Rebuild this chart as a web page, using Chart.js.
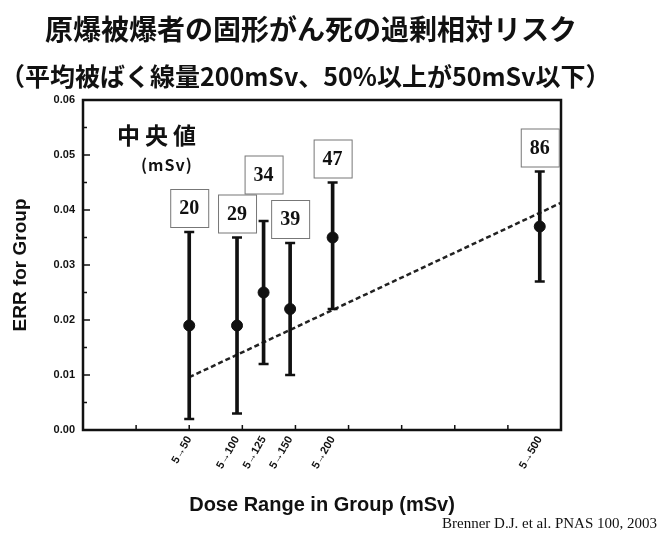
<!DOCTYPE html>
<html>
<head>
<meta charset="utf-8">
<script src="https://cdn.jsdelivr.net/npm/chart.js@4.4.1/dist/chart.umd.min.js"></script>
<style>
html, body { margin: 0; padding: 0; background: #fff; }
#wrap { width: 671px; height: 536px; }
</style>
</head>
<body>
<div id="wrap"><canvas id="chart"></canvas></div>
<script>
// median dose of each group (mSv) and its dose range label
const medians = [20, 29, 34, 39, 47, 86];
const rangeLabels = ["5→50", "5→100", "5→125", "5→150", "5→200", "5→500"];
// excess relative risk per group with error bar ends
const errValues = [0.019, 0.019, 0.025, 0.022, 0.035, 0.037];
const errLow = [0.002, 0.003, 0.012, 0.010, 0.022, 0.027];
const errHigh = [0.036, 0.035, 0.038, 0.034, 0.045, 0.047];
// linear fit (dashed)
const fitX = [20, 90];
const fitY = [0.0096, 0.0413];

const titleText = "原爆被爆者の固形がん死の過剰相対リスク";
const subtitleText = "（平均被ばく線量200mSv、50%以上が50mSv以下）";
const noteText = "中央値";
const noteUnit = "(mSv)";
const citeText = "Brenner D.J. et al. PNAS 100, 2003";

const INK = "#111";
const sans = '"Liberation Sans", Arial, sans-serif';
const cjk = '"Noto Sans CJK JP", sans-serif';

const decor = {
    id: "decor",
    afterDraw(chart) {
        const ctx = chart.ctx;
        const area = chart.chartArea;
        const x = chart.scales.x, y = chart.scales.y;
        ctx.save();
        ctx.strokeStyle = INK;
        ctx.fillStyle = INK;

        // frame
        ctx.lineWidth = 2.5;
        ctx.strokeRect(area.left, area.top, area.right - area.left, area.bottom - area.top);

        // inward ticks
        ctx.lineWidth = 1.5;
        ctx.beginPath();
        for (let v = 0; v <= 0.06 + 1e-9; v += 0.005) {
            const py = y.getPixelForValue(v);
            const len = Math.round(v * 1000) % 10 === 0 ? 7 : 4;
            ctx.moveTo(area.left, py);
            ctx.lineTo(area.left + len, py);
        }
        for (let v = 10; v < 90; v += 10) {
            const px = x.getPixelForValue(v);
            ctx.moveTo(px, area.bottom);
            ctx.lineTo(px, area.bottom - 5);
        }
        ctx.stroke();

        // boxed median labels above each error bar
        const size = 38;
        let prev = null;
        medians.forEach((m, i) => {
            const cx = x.getPixelForValue(m);
            let cy = y.getPixelForValue(errHigh[i]) - 24;
            if (prev && Math.abs(cx - prev.cx) < size && Math.abs(cy - prev.cy) < size) {
                cy = prev.cy - size - 1;
            }
            ctx.fillStyle = "#fff";
            ctx.fillRect(cx - size / 2, cy - size / 2, size, size);
            ctx.strokeStyle = "#777";
            ctx.lineWidth = 1;
            ctx.strokeRect(cx - size / 2 + 0.5, cy - size / 2 + 0.5, size, size);
            ctx.fillStyle = INK;
            ctx.font = 'bold 20px "Liberation Serif", "Times New Roman", serif';
            ctx.textAlign = "center";
            ctx.textBaseline = "middle";
            ctx.fillText(String(m), cx, cy + 1);
            prev = { cx, cy };
        });

        // titles
        ctx.fillStyle = INK;
        ctx.textAlign = "left";
        ctx.textBaseline = "middle";
        ctx.font = "bold 28px " + cjk;
        ctx.fillText(titleText, 45, 29);
        ctx.font = "bold 25px " + cjk;
        ctx.fillText(subtitleText, 0, 76);

        // note in the plot
        ctx.font = "bold 23px " + cjk;
        ctx.letterSpacing = "5px";
        ctx.fillText(noteText, 117, 135);
        ctx.font = "bold 16px " + cjk;
        ctx.letterSpacing = "1px";
        ctx.fillText(noteUnit, 141, 165);
        ctx.letterSpacing = "0px";

        // citation
        ctx.font = '15px "Liberation Serif", "Times New Roman", serif';
        ctx.textAlign = "right";
        ctx.fillText(citeText, 657, 524);
        ctx.restore();
    }
};

new Chart(document.getElementById("chart").getContext("2d"), {
    type: "scatter",
    data: {
        datasets: [
            {
                type: "bar",
                data: medians.map((m, i) => ({ x: m, y: [errLow[i], errHigh[i]] })),
                backgroundColor: INK,
                borderWidth: 0,
                barThickness: 3,
                grouped: false
            },
            {
                type: "scatter",
                data: medians.flatMap((m, i) => [{ x: m, y: errLow[i] }, { x: m, y: errHigh[i] }]),
                pointStyle: "line",
                pointRadius: 5,
                borderColor: INK,
                borderWidth: 2.5
            },
            {
                type: "scatter",
                data: medians.map((m, i) => ({ x: m, y: errValues[i] })),
                pointRadius: 5.5,
                backgroundColor: INK,
                borderColor: INK
            },
            {
                type: "line",
                data: fitX.map((v, i) => ({ x: v, y: fitY[i] })),
                borderColor: "#222",
                borderWidth: 2.5,
                borderDash: [5, 3],
                pointRadius: 0,
                fill: false
            }
        ]
    },
    options: {
        responsive: true,
        maintainAspectRatio: false,
        animation: false,
        layout: { padding: { top: 100, right: 110, bottom: 0, left: 0 } },
        plugins: {
            legend: { display: false },
            tooltip: { enabled: false }
        },
        scales: {
            x: {
                type: "linear",
                min: 0,
                max: 90,
                offset: false,
                grid: { display: false, drawTicks: false, offset: false },
                border: { display: false },
                afterBuildTicks: scale => { scale.ticks = medians.map(v => ({ value: v })); },
                afterFit: scale => { scale.height = 106; },
                ticks: {
                    autoSkip: false,
                    minRotation: 60,
                    maxRotation: 60,
                    padding: 4,
                    color: INK,
                    font: { family: sans, size: 11, weight: "bold" },
                    callback: (value, index) => rangeLabels[index]
                },
                title: {
                    display: true,
                    text: "Dose Range in Group (mSv)",
                    color: INK,
                    font: { family: sans, size: 20, weight: "bold" },
                    padding: { top: 0, bottom: 19 }
                }
            },
            y: {
                type: "linear",
                min: 0,
                max: 0.06,
                grid: { display: false, drawTicks: false },
                border: { display: false },
                afterFit: scale => { scale.width = 83; },
                ticks: {
                    stepSize: 0.01,
                    padding: 8,
                    color: INK,
                    font: { family: sans, size: 11, weight: "bold" },
                    callback: v => v.toFixed(2)
                },
                title: {
                    display: true,
                    text: "ERR for Group",
                    color: INK,
                    font: { family: sans, size: 19, weight: "bold" },
                    padding: { top: 9, bottom: 0 }
                }
            }
        }
    },
    plugins: [decor]
});
</script>
</body>
</html>
